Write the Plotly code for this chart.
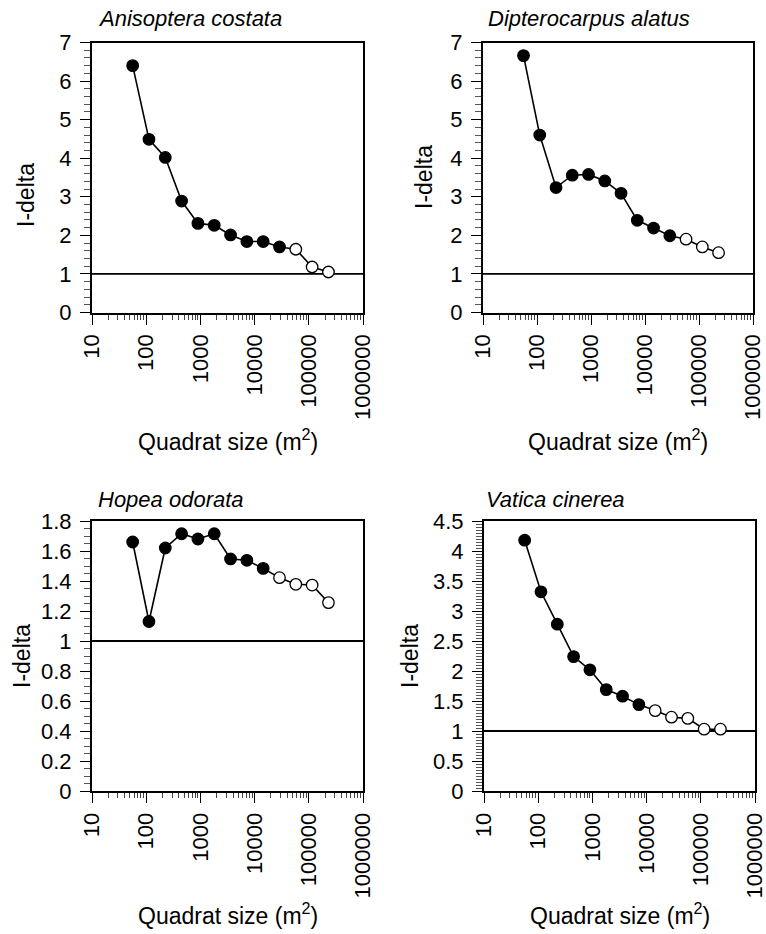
import plotly.graph_objects as go

# ---------------- data ----------------
quadrat_size = [56.25, 112.5, 225, 450, 900, 1800, 3600, 7200, 14400, 28800, 57600, 115200, 230400]

species = ["Anisoptera costata", "Dipterocarpus alatus", "Hopea odorata", "Vatica cinerea"]

idelta_anisoptera = [6.40, 4.49, 4.02, 2.89, 2.31, 2.26, 2.01, 1.84, 1.84, 1.70, 1.64, 1.18, 1.05]
idelta_dipterocarpus = [6.66, 4.60, 3.24, 3.56, 3.58, 3.41, 3.09, 2.39, 2.19, 1.99, 1.90, 1.70, 1.55]
idelta_hopea = [1.66, 1.13, 1.62, 1.715, 1.68, 1.715, 1.547, 1.538, 1.484, 1.422, 1.378, 1.373, 1.256]
idelta_vatica = [4.18, 3.32, 2.78, 2.24, 2.02, 1.69, 1.58, 1.44, 1.34, 1.23, 1.21, 1.03, 1.03]

# True = significant (filled marker), False = not significant (open marker)
significant_anisoptera = [True] * 10 + [False] * 3
significant_dipterocarpus = [True] * 10 + [False] * 3
significant_hopea = [True] * 9 + [False] * 4
significant_vatica = [True] * 8 + [False] * 5

x_tickvals = [10, 100, 1000, 10000, 100000, 1000000]
x_ticktext = ["10", "100", "1000", "10000", "100000", "1000000"]

y_ranges = [[0, 7], [0, 7], [0, 1.8], [0, 4.5]]
y_dticks = [1, 1, 0.2, 0.5]
y_minor_dticks = [0.2, 0.2, 0.05, 0.05]
reference_level = 1

series = [idelta_anisoptera, idelta_dipterocarpus, idelta_hopea, idelta_vatica]
signif = [significant_anisoptera, significant_dipterocarpus, significant_hopea, significant_vatica]

# ---------------- layout geometry (pixels) ----------------
W, H = 766, 934
FONT = "Liberation Sans, Arial, Helvetica, sans-serif"
panels_px = [  # x0, x1, ytop, ybottom
    (92, 363, 42.5, 312.5),
    (483, 753, 42.5, 312.5),
    (92, 363, 521, 791),
    (484, 755, 521, 791),
]
title_px = [(96, 18), (486, 18), (96, 499), (484, 499)]
ytitle_px = [(26, 195), (424, 177), (22, 656), (410, 656)]
xtitle_y = [440, 440, 914, 914]

fig = go.Figure()

for i in range(4):
    x0, x1, yt, yb = panels_px[i]
    xa = "xaxis" if i == 0 else f"xaxis{i+1}"
    ya = "yaxis" if i == 0 else f"yaxis{i+1}"
    xr = "x" if i == 0 else f"x{i+1}"
    yr = "y" if i == 0 else f"y{i+1}"

    fills = ["black" if s else "white" for s in signif[i]]
    fig.add_trace(go.Scatter(
        x=quadrat_size, y=series[i], mode="lines+markers",
        line=dict(color="black", width=1.6),
        marker=dict(size=11.5, color=fills, line=dict(color="black", width=1.3)),
        xaxis=xr, yaxis=yr, showlegend=False, cliponaxis=False,
    ))

    fig.add_shape(type="line", xref=f"{xr} domain", yref=yr,
                  x0=0, x1=1, y0=reference_level, y1=reference_level,
                  line=dict(color="black", width=1.8), layer="below")

    fig.layout[xa] = dict(
        type="log", range=[1, 6], domain=[x0 / W, x1 / W], anchor=yr,
        tickvals=x_tickvals, ticktext=x_ticktext, tickangle=-90,
        ticks="outside", ticklen=10, tickwidth=1.2, tickcolor="black",
        minor=dict(ticks="outside", ticklen=5, tickwidth=1, tickcolor="#444", dtick="D1", showgrid=False),
        showline=True, linecolor="black", linewidth=2, mirror=True,
        showgrid=False, zeroline=False, automargin=False,
        tickfont=dict(family=FONT, size=22, color="black"),
        ticklabelstandoff=1, ticklabeloverflow="allow",
    )
    fig.layout[ya] = dict(
        range=y_ranges[i], domain=[1 - yb / H, 1 - yt / H], anchor=xr,
        dtick=y_dticks[i], tick0=0,
        ticks="outside", ticklen=10, tickwidth=1.2, tickcolor="black",
        minor=dict(ticks="outside", ticklen=6, tickwidth=1, tickcolor="#555", dtick=y_minor_dticks[i], tick0=0, showgrid=False),
        showline=True, linecolor="black", linewidth=2, mirror=True,
        showgrid=False, zeroline=False, automargin=False,
        tickfont=dict(family=FONT, size=22, color="black"),
        ticklabelstandoff=4, ticklabeloverflow="allow",
    )

    tx, ty = title_px[i]
    fig.add_annotation(text=species[i], xref="paper", yref="paper",
                       x=tx / W, y=1 - ty / H, xanchor="left", yanchor="middle",
                       showarrow=False, font=dict(family=FONT, size=22, color="black", style="italic"))
    ax, ay = ytitle_px[i]
    fig.add_annotation(text="I-delta", xref="paper", yref="paper",
                       x=ax / W, y=1 - ay / H, xanchor="center", yanchor="middle",
                       textangle=-90, showarrow=False, font=dict(family=FONT, size=23, color="black"))
    fig.add_annotation(text="Quadrat size (m<sup>2</sup>)", xref="paper", yref="paper",
                       x=(x0 + x1) / 2 / W, y=1 - xtitle_y[i] / H, xanchor="center", yanchor="middle",
                       showarrow=False, font=dict(family=FONT, size=23, color="black"))

fig.update_layout(
    width=W, height=H, margin=dict(l=0, r=0, t=0, b=0),
    plot_bgcolor="white", paper_bgcolor="white",
    font=dict(family=FONT, color="black"),
)

fig.write_html(
    "out.html",
    config={"displayModeBar": False},
    post_script="document.body.style.margin='0';document.body.style.overflow='hidden';",
)
